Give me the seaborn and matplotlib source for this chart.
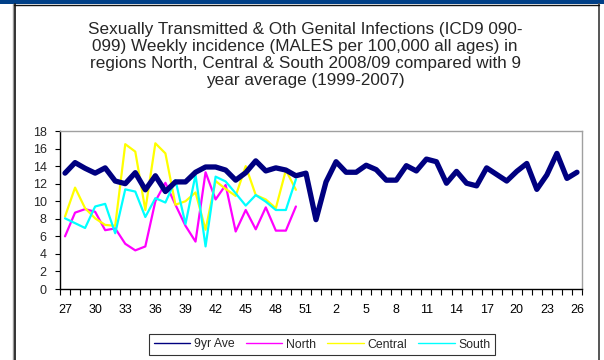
import matplotlib
matplotlib.use("Agg")
import matplotlib.pyplot as plt
from matplotlib.lines import Line2D
from matplotlib.patches import Rectangle
import numpy as np
import pandas as pd
import seaborn as sns

# Week order of the season: week 27 of 2008 through week 26 of 2009
weeks = list(range(27, 53)) + list(range(1, 27))

# 9-year average (1999-2007), all 52 weeks
ave_9yr = [13.2, 14.4, 13.75, 13.2, 13.8, 12.3, 12.0, 13.25, 11.3, 12.9, 11.1, 12.2,
           12.2, 13.3, 13.9, 13.9, 13.55, 12.4, 13.25, 14.6, 13.45, 13.8, 13.55, 12.9,
           13.2, 7.9, 12.2, 14.5, 13.3, 13.3, 14.1, 13.6, 12.4, 12.4, 14.05, 13.45,
           14.8, 14.5, 12.05, 13.4, 12.05, 11.75, 13.8, 13.05, 12.3, 13.4, 14.3, 11.35,
           13.0, 15.45, 12.6, 13.3]

# 2008/09 regional rates, weeks 27-50
north = [6.0, 8.7, 9.1, 8.8, 6.7, 6.9, 5.15, 4.4, 4.85, 10.0, 12.1, 9.6,
         7.2, 5.4, 13.3, 10.2, 11.85, 6.55, 9.0, 6.8, 9.3, 6.65, 6.65, 9.4]
central = [8.25, 11.55, 9.2, 8.05, 7.3, 7.2, 16.5, 15.65, 9.0, 16.6, 15.45, 9.6,
           10.0, 11.0, 6.75, 12.3, 11.4, 10.6, 14.0, 10.7, 10.2, 9.2, 13.55, 11.3]
south = [8.05, 7.5, 6.95, 9.4, 9.7, 6.35, 11.35, 11.1, 8.2, 10.35, 9.85, 12.4,
         7.4, 13.0, 4.85, 12.8, 12.25, 10.9, 9.5, 10.7, 9.95, 9.0, 9.0, 12.5]

series_names = ["9yr Ave", "North", "Central", "South"]
series_values = [ave_9yr, north, central, south]
colors = ["#000080", "#FF00FF", "#FFFF00", "#00FFFF"]
widths = [3.8, 1.6, 1.6, 1.6]

y_ticks = list(range(0, 19, 2))
tick_every = 3

sns.set_theme(style="white")
plt.rcParams["font.family"] = ["Liberation Sans", "DejaVu Sans"]

fig = plt.figure(figsize=(6.04, 3.6), dpi=100)
W, H = 604, 360

# Outer panel decoration
fig.patches.append(Rectangle((0, 356 / H), 1, 4 / H, transform=fig.transFigure,
                             facecolor="#003F87", edgecolor="none", zorder=0))
fig.add_artist(Line2D([12.5 / W, 12.5 / W], [0, 356 / H], transform=fig.transFigure,
                      color="#9A9A9A", lw=1.0))
fig.add_artist(Line2D([14.5 / W, 14.5 / W], [0, 356 / H], transform=fig.transFigure,
                      color="#111111", lw=1.2))
fig.add_artist(Line2D([598.5 / W, 598.5 / W], [0, 356 / H], transform=fig.transFigure,
                      color="#555555", lw=1.4))
fig.add_artist(Line2D([14 / W, 599 / W], [355.5 / H, 355.5 / H], transform=fig.transFigure,
                      color="#111111", lw=1.0))

ax = fig.add_axes([60 / W, (H - 289) / H, 522 / W, 158 / H])

for name, vals, col, lw in zip(series_names, series_values, colors, widths):
    df = pd.DataFrame({"pos": np.arange(len(vals)), "rate": vals})
    sns.lineplot(data=df, x="pos", y="rate", ax=ax, color=col, linewidth=lw,
                 zorder=3 if name == "9yr Ave" else 2, legend=False)

ax.set_xlim(-0.5, len(weeks) - 0.5)
ax.set_ylim(0, 18)
ax.set_yticks(y_ticks)
ax.set_yticklabels([str(t) for t in y_ticks], fontsize=9)
label_pos = list(range(0, len(weeks), tick_every))
ax.set_xticks(label_pos)
ax.set_xticklabels([str(weeks[p]) for p in label_pos], fontsize=9)
ax.set_xticks(np.arange(-0.5, len(weeks), 1.0), minor=True)
ax.tick_params(axis="x", which="major", length=0, pad=11, colors="black")
ax.tick_params(axis="x", which="minor", length=4, width=0.8, color="black", bottom=True)
ax.tick_params(axis="y", length=3.5, width=0.8, color="black", left=True, pad=6)
ax.set_xlabel("")
ax.set_ylabel("")
ax.grid(False)

for side in ["left", "bottom"]:
    ax.spines[side].set_color("black")
    ax.spines[side].set_linewidth(1.0)
for side in ["top", "right"]:
    ax.spines[side].set_color("#A0A0A0")
    ax.spines[side].set_linewidth(1.0)

fig.text(305 / W, 1 - 22 / H,
         "Sexually Transmitted & Oth Genital Infections (ICD9 090-\n"
         "099) Weekly incidence (MALES per 100,000 all ages) in\n"
         "regions North, Central & South 2008/09 compared with 9\n"
         "year average (1999-2007)",
         ha="center", va="top", fontsize=12.3, linespacing=1.16)

handles = [Line2D([], [], color=c, lw=1.0) for c in colors]
leg = fig.legend(handles, series_names, loc="center", ncol=4,
                 bbox_to_anchor=(322 / W, 1 - 344.5 / H), frameon=True, fontsize=8.8,
                 handlelength=3.0, handletextpad=0.3, columnspacing=0.9,
                 borderpad=0.35, fancybox=False)
leg.get_frame().set_edgecolor("black")
leg.get_frame().set_linewidth(0.8)

fig.savefig("out.png", dpi=100)
